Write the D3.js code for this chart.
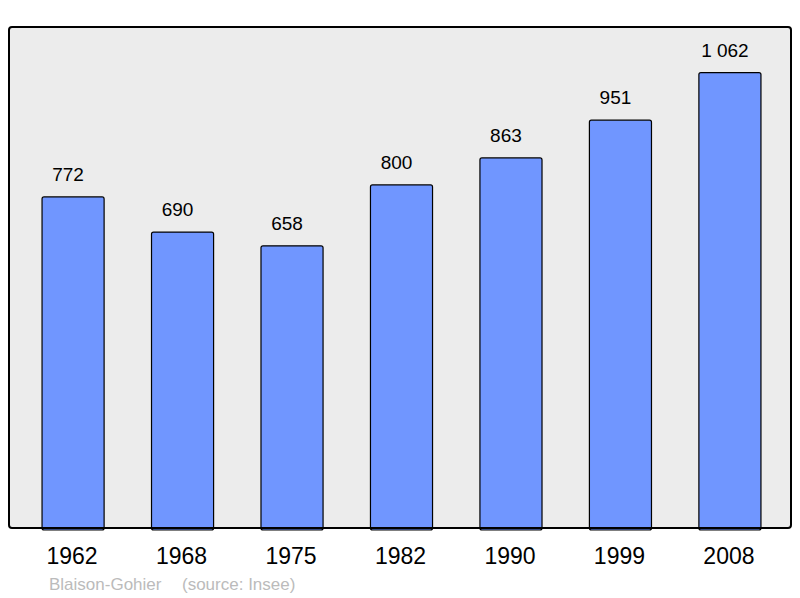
<!DOCTYPE html>
<html>
<head>
<meta charset="utf-8">
<script src="https://cdn.jsdelivr.net/npm/d3@7"></script>
<style>
  body { margin: 0; background: #fff; }
  text { font-family: "Liberation Sans", Arial, sans-serif; }
</style>
</head>
<body>
<div id="chart"></div>
<script>
var years = ["1962", "1968", "1975", "1982", "1990", "1999", "2008"];
var population = [772, 690, 658, 800, 863, 951, 1062];
var labels = ["772", "690", "658", "800", "863", "951", "1 062"];

var width = 800, height = 598;
var frame = {left: 9, top: 27, right: 791, bottom: 528};

var svg = d3.select("#chart").append("svg")
    .attr("width", width)
    .attr("height", height);

// plot background
svg.append("rect")
    .attr("x", frame.left)
    .attr("y", frame.top)
    .attr("width", frame.right - frame.left)
    .attr("height", frame.bottom - frame.top)
    .attr("rx", 3)
    .attr("fill", "#ececec")
    .attr("stroke", "none");

var x = d3.scaleBand()
    .domain(years)
    .range([9.2, 793.8])
    .paddingInner(0.433)
    .paddingOuter(0.3);

var y = d3.scaleLinear()
    .domain([0, 1062 * 1.1])
    .range([frame.bottom, frame.top]);

var g = svg.append("g");

g.selectAll(".bar")
    .data(population)
    .enter().append("rect")
    .attr("class", "bar")
    .attr("x", function(d, i){ return x(years[i]); })
    .attr("y", function(d){ return y(d); })
    .attr("width", x.bandwidth())
    .attr("height", function(d){ return y(0) - y(d) + 2; })
    .attr("rx", 2)
    .attr("fill", "#7096ff")
    .attr("stroke", "#000")
    .attr("stroke-width", 1.2);

// value labels sit a little left of the bar centre
g.selectAll(".val")
    .data(population)
    .enter().append("text")
    .attr("class", "val")
    .attr("x", function(d, i){ return x(years[i]) + x.bandwidth() / 2 - 5; })
    .attr("y", function(d){ return y(d) - 16; })
    .attr("text-anchor", "middle")
    .attr("font-size", "19px")
    .attr("fill", "#000")
    .text(function(d, i){ return labels[i]; });

// frame on top of bars
svg.append("rect")
    .attr("x", frame.left)
    .attr("y", frame.top)
    .attr("width", frame.right - frame.left)
    .attr("height", frame.bottom - frame.top)
    .attr("rx", 3)
    .attr("fill", "none")
    .attr("stroke", "#000")
    .attr("stroke-width", 2);

var xAxis = d3.axisBottom(x).tickSize(0).tickPadding(0);
var ax = svg.append("g")
    .attr("transform", "translate(0," + frame.bottom + ")")
    .call(xAxis);
ax.select(".domain").remove();
ax.selectAll("text")
    .attr("x", -1)
    .attr("y", 36)
    .attr("dy", 0)
    .attr("font-size", "23px")
    .attr("font-family", "Liberation Sans, Arial, sans-serif")
    .attr("fill", "#000");

svg.append("text")
    .attr("x", 49)
    .attr("y", 590)
    .attr("font-size", "17px")
    .attr("fill", "#bbbbbb")
    .text("Blaison-Gohier");

svg.append("text")
    .attr("x", 182)
    .attr("y", 590)
    .attr("font-size", "17px")
    .attr("fill", "#bbbbbb")
    .text("(source: Insee)");
</script>
</body>
</html>
